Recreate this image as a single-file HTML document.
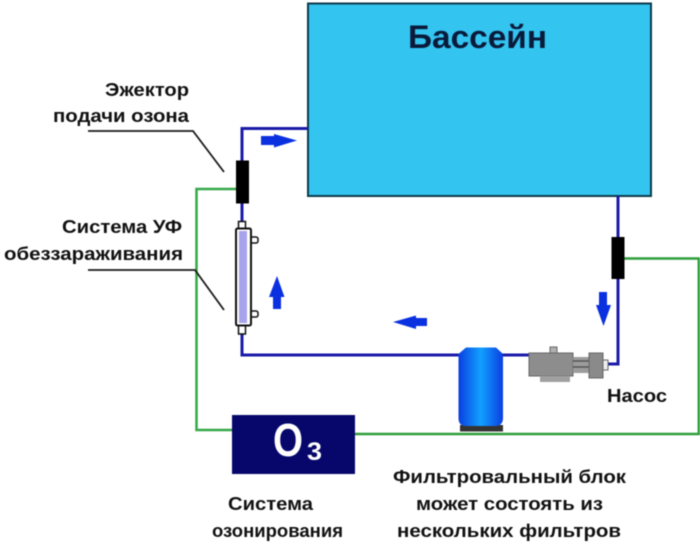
<!DOCTYPE html>
<html>
<head>
<meta charset="utf-8">
<style>
html,body{margin:0;padding:0;background:#fff}
svg{display:block;filter:blur(.4px)}
text{font-family:"Liberation Sans",sans-serif;font-weight:bold;fill:#111}
</style>
</head>
<body>
<svg width="700" height="543" viewBox="0 0 700 543" xmlns="http://www.w3.org/2000/svg">
<defs>
<linearGradient id="tank" x1="0" x2="1" y1="0" y2="0">
<stop offset="0" stop-color="#0a3fe0"/>
<stop offset="0.5" stop-color="#12a0ff"/>
<stop offset="1" stop-color="#0a3fe0"/>
</linearGradient>
</defs>
<rect width="700" height="543" fill="#fff"/>
<!-- pool -->
<rect x="308" y="3.500" width="343" height="192.500" fill="#33c4f0" stroke="#0f3a4a" stroke-width="2"/>
<text x="408" y="48" font-size="32" textLength="139" lengthAdjust="spacingAndGlyphs" style="fill:#0a1a3a">Бассейн</text>
<!-- green lines -->
<path d="M237 189H196.500V430H233" fill="none" stroke="#35a84a" stroke-width="2.500"/>
<path d="M354 434H698.800V258.500H624" fill="none" stroke="#2f9e3c" stroke-width="2.500"/>
<!-- blue pipes -->
<path d="M308 128.500H242V162" fill="none" stroke="#1a1aa8" stroke-width="3"/>
<path d="M242 200V232" fill="none" stroke="#1a1aa8" stroke-width="3"/>
<path d="M242 325V355H530" fill="none" stroke="#1a1aa8" stroke-width="3"/>
<path d="M618 196V364H606" fill="none" stroke="#1a1aa8" stroke-width="3"/>
<!-- ejectors -->
<rect x="236" y="160.500" width="13" height="43" fill="#000"/>
<rect x="611.500" y="237" width="13" height="42" fill="#000"/>
<!-- UV -->
<rect x="238.500" y="221.500" width="7" height="9" fill="#fff" stroke="#111" stroke-width="1.500"/>
<rect x="238.500" y="325" width="7" height="9" fill="#fff" stroke="#111" stroke-width="1.500"/>
<rect x="249" y="237" width="9" height="6" rx="2" fill="#fff" stroke="#111" stroke-width="1.500"/>
<rect x="249" y="311" width="9" height="6" rx="2" fill="#fff" stroke="#111" stroke-width="1.500"/>
<rect x="236" y="228.500" width="15" height="97" rx="1.500" fill="#fff" stroke="#111" stroke-width="2"/>
<rect x="239" y="231" width="8" height="92" fill="#a8a4ec"/>
<!-- leader lines -->
<path d="M88 131H193L224 172" stroke="#1a1a1a" stroke-width="1.800" fill="none"/>
<path d="M88 270H195L224 310" stroke="#1a1a1a" stroke-width="1.800" fill="none"/>
<!-- flow arrows -->
<path d="M261 136H274V134L297 140.500L274 147.500V145H261Z" fill="#0a30e0"/>
<path d="M269 297L277 276L284.500 297H281V309H273V297Z" fill="#0a30e0"/>
<path d="M393 322L416 315.500V318H427V326H416V329Z" fill="#0a30e0"/>
<path d="M599 292H607V305H611L603.500 326L596 305H599Z" fill="#0a30e0"/>
<!-- tank -->
<rect x="460" y="425" width="43" height="6.500" fill="#333"/>
<path d="M458.500 354L466 347.500H496L503 354V418Q503 426 495 426H466Q458.500 426 458.500 418Z" fill="url(#tank)"/>
<!-- pump -->
<rect x="529" y="353" width="44" height="23" fill="#8d8d8d" stroke="#666" stroke-width="1"/>
<rect x="540" y="376" width="30" height="6" fill="#a0a0a0"/>
<rect x="550" y="347" width="7" height="6" fill="#b0b0b0" stroke="#666" stroke-width="1"/>
<rect x="573" y="357" width="16" height="16" fill="#9c9c9c"/>
<path d="M573 361H589M573 367H589" stroke="#555" stroke-width="1.500"/>
<rect x="589" y="353" width="14" height="25" fill="#8a8a8a" stroke="#666" stroke-width="1"/>
<rect x="603" y="360" width="5" height="10" fill="#eee" stroke="#666" stroke-width="1"/>
<!-- O3 box -->
<rect x="232" y="415" width="123" height="59" fill="#07076b"/>
<text x="273" y="456" font-size="46" textLength="30" lengthAdjust="spacingAndGlyphs" style="fill:#fff">O</text>
<text x="307" y="460" font-size="25" textLength="15" lengthAdjust="spacingAndGlyphs" style="fill:#fff">3</text>
<!-- labels -->
<text x="105" y="96" font-size="18" textLength="84" lengthAdjust="spacingAndGlyphs">Эжектор</text>
<text x="53" y="122" font-size="18" textLength="136" lengthAdjust="spacingAndGlyphs">подачи озона</text>
<text x="62" y="233" font-size="18" textLength="120" lengthAdjust="spacingAndGlyphs">Система УФ</text>
<text x="4" y="260" font-size="18" textLength="179" lengthAdjust="spacingAndGlyphs">обеззараживания</text>
<text x="607" y="402" font-size="18" textLength="60" lengthAdjust="spacingAndGlyphs">Насос</text>
<text x="228" y="510" font-size="18" textLength="85" lengthAdjust="spacingAndGlyphs">Система</text>
<text x="212" y="537" font-size="18" textLength="131" lengthAdjust="spacingAndGlyphs">озонирования</text>
<text x="393" y="483" font-size="18" textLength="233" lengthAdjust="spacingAndGlyphs">Фильтровальный блок</text>
<text x="416" y="510" font-size="18" textLength="187" lengthAdjust="spacingAndGlyphs">может состоять из</text>
<text x="397" y="537" font-size="18" textLength="224" lengthAdjust="spacingAndGlyphs">нескольких фильтров</text>
</svg>
</body>
</html>
